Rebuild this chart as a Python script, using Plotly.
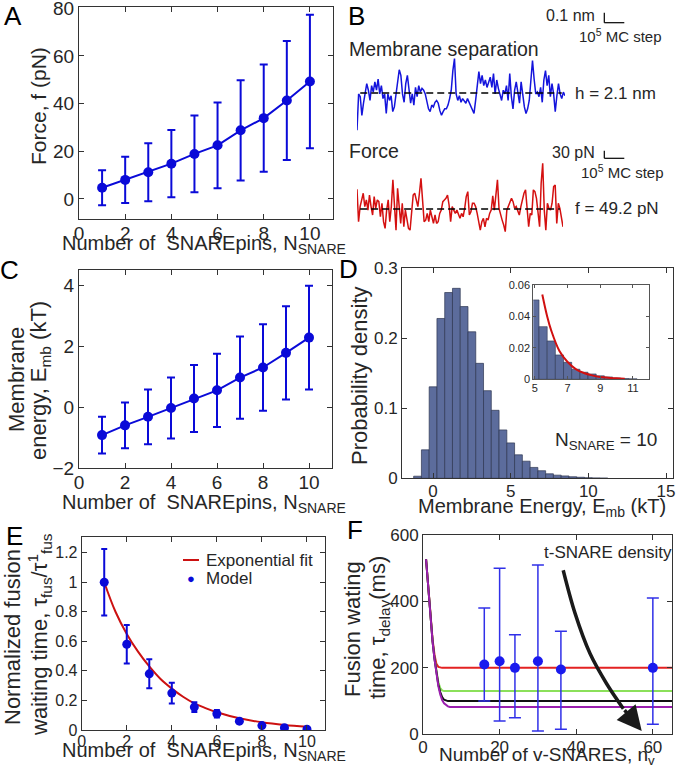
import plotly.graph_objects as go

W, H = 677, 775
FONT = "Liberation Sans, Arial, sans-serif"
INK = "#262626"
BLUE = "#0a0ad8"

# A: force vs number of SNAREpins
n_snare = [1, 2, 3, 4, 5, 6, 7, 8, 9, 10]
force_mean = [4.7, 8.0, 11.2, 14.8, 18.9, 22.5, 28.8, 33.9, 41.3, 49.3]
force_err = [7.3, 9.7, 12.2, 14.1, 16.1, 18.0, 21.0, 22.5, 25.0, 28.0]

# B: Monte Carlo traces (deviation from mean)
h_mean = 2.1            # nm
h_dev = [-40, -1, -4, -24, -11, -1, 10, 3, -8, 8, 1, 12, 3, 15, -1, 8, -6, -1, -22, -1,
         -8, -3, -20, -15, -1, 14, 25, 19, -1, -10, 10, 19, 3, -11, -1, -13, 6, -4, 8, 1,
         5, 3, -1, -8, -17, -20, -13, -15, -10, -8, -11, -19, -24, -20, -17, -17, -13, -6, 3, 24,
         37, -1, -8, -3, -10, -6, -8, -11, -6, -10, -13, -17, -22, -8, 6, 23, 10, 19, 8, 14,
         6, 12, 17, 6, 21, -1, 14, 5, -3, -8, 3, -1, 8, -8, 21, -4, -17, 3, 12, 1,
         -11, 12, -4, -15, -22, -17, -8, 10, 35, 15, -1, 1, -4, 6, -10, 14, 24, 8, 19, -4,
         10, -1, -20, -3, 10, -1, -6, 1, -3]          # 0.01 nm
f_mean = 49.2           # pN
f_dev = [89, -57, 11, 41, 71, 11, 41, -5, 63, 11, -27, 56, 3, 41, 33, -35, 26, -57, -87, -5,
         41, -57, 11, 131, -5, -95, 93, 11, -65, 26, -80, -5, -50, -87, -95, -5, 63, 71, 41, 11,
         71, 138, 41, -57, -50, -20, -57, -5, -35, -65, -27, -65, -57, -20, -5, 33, 41, 48, 63, 18,
         -57, 11, -5, -20, -5, -20, -42, -20, -35, 3, 56, 78, -27, -12, 26, 26, 11, -20, -65, -95,
         -57, -42, -80, -42, -50, -20, -5, 59, -5, 56, 131, 3, -27, -50, -72, -102, -5, 11, 26, 48,
         33, 3, 11, -12, -27, 11, 41, 71, 86, 11, -80, -20, -27, 86, 78, 48, -20, -80, 116, 206,
         -5, -95, 26, 3, -5, 26, 101, 108, -65, 26, 3, -35, -80]   # pN

# C: membrane energy
emb_mean = [-0.92, -0.60, -0.32, -0.03, 0.28, 0.55, 0.97, 1.30, 1.78, 2.28]
emb_err = [0.60, 0.75, 0.90, 1.00, 1.10, 1.20, 1.35, 1.42, 1.53, 1.70]

# D: histogram of membrane energy (N_SNARE = 10)
emb_bins = [-1, -0.5, 0, 0.5, 1, 1.5, 2, 2.5, 3, 3.5, 4, 4.5, 5, 5.5, 6, 6.5, 7, 7.5,
            8, 8.5, 9, 9.5, 10, 10.5, 11]
emb_density = [0.003, 0.0406, 0.1305, 0.228, 0.265, 0.271, 0.245, 0.209, 0.164, 0.125,
               0.097, 0.069, 0.0505, 0.0335, 0.0244, 0.0155, 0.0108, 0.0064, 0.0045, 0.0034,
               0.0022, 0.0015, 0.0008, 0.0005, 0.0003]
tail_x = [5.45, 5.75, 6.0, 6.5, 7.0, 7.5, 8.0, 8.5, 9.0, 9.5, 10.0, 10.5]
tail_y = [0.054, 0.040, 0.031, 0.018, 0.011, 0.0065, 0.004, 0.0025, 0.0015, 0.001, 0.0006, 0.0004]

# E: normalized fusion waiting time
tau_norm = [1.0, 0.58, 0.38, 0.25, 0.155, 0.11, 0.06, 0.03, 0.015, 0.005]
tau_err = [0.225, 0.13, 0.098, 0.07, 0.033, 0.025, 0.006, 0.004, 0.003, 0.002]
fit_x = [1, 1.5, 2, 2.5, 3, 3.5, 4, 4.5, 5, 5.5, 6, 7, 8, 9, 10]
fit_y = [1.0, 0.80, 0.65, 0.53, 0.43, 0.345, 0.28, 0.225, 0.18, 0.148, 0.12, 0.079, 0.052, 0.034, 0.022]

# F: fusion waiting time vs number of v-SNAREs
n_v = [16, 20, 24, 30, 36, 60]
delay = [210, 220, 200, 220, 195, 200]
delay_hi = [380, 500, 300, 510, 310, 410]
delay_lo = [100, 40, 50, 10, 15, 30]
curve_x = [0.8, 1.5, 2, 2.5, 3, 3.5, 4, 4.5, 5, 5.5, 6, 6.5, 7, 8, 65]
curve_red = [527, 420, 345, 285, 240, 212, 203, 201, 200, 200, 200, 200, 200, 200, 200]
curve_green = [527, 420, 345, 280, 230, 190, 157, 139, 132, 130, 130, 130, 130, 130, 130]
curve_black = [527, 420, 345, 280, 228, 185, 150, 127, 112, 104, 101, 100, 100, 100, 100]
curve_purple = [527, 420, 345, 278, 226, 180, 145, 120, 103, 93, 87, 84, 82.5, 82, 82]
arrow_x = [36.6, 39.7, 43.6, 47.9, 52.3]
arrow_y = [494, 364, 243, 153, 77]
arrow_tip = (57.1, 10)


def dom_x(a, b):
    return [a / W, b / W]


def dom_y(top, bottom):
    return [1 - bottom / H, 1 - top / H]


def axis(size, **kw):
    d = dict(showline=True, linecolor="#333333", linewidth=1, mirror="ticks",
             ticks="inside", ticklen=5, tickcolor="#333333", showgrid=False,
             zeroline=False, automargin=False, ticklabeloverflow="allow",
             tickfont=dict(family=FONT, size=size, color=INK))
    d.update(kw)
    return d


def hidden(**kw):
    d = dict(visible=False, automargin=False)
    d.update(kw)
    return d


def label(s, x, y, size, xanchor="center", yanchor="middle", angle=0, color=INK):
    return dict(text=s, x=x / W, y=1 - y / H, xref="paper", yref="paper",
                showarrow=False, xanchor=xanchor, yanchor=yanchor, textangle=angle,
                font=dict(family=FONT, size=size, color=color))


fig = go.Figure()

# A
fig.add_trace(go.Scatter(
    x=n_snare, y=force_mean, mode="lines+markers", xaxis="x", yaxis="y",
    line=dict(color=BLUE, width=2), marker=dict(color=BLUE, size=10),
    error_y=dict(type="data", array=force_err, color=BLUE, thickness=2, width=4)))

# B
h_vals = [h_mean + d / 100 for d in h_dev]
f_vals = [f_mean + d for d in f_dev]
fig.add_trace(go.Scatter(x=list(range(len(h_vals))), y=h_vals, mode="lines", xaxis="x2", yaxis="y2",
                         line=dict(color="#1414dc", width=1.5)))
fig.add_trace(go.Scatter(x=[2, len(h_vals) - 3], y=[h_mean, h_mean], mode="lines", xaxis="x2", yaxis="y2",
                         line=dict(color="black", width=1.6, dash="7px,4px")))
fig.add_trace(go.Scatter(x=list(range(len(f_vals))), y=f_vals, mode="lines", xaxis="x3", yaxis="y3",
                         line=dict(color="#d41010", width=1.5)))
fig.add_trace(go.Scatter(x=[2, len(f_vals) - 3], y=[f_mean, f_mean], mode="lines", xaxis="x3", yaxis="y3",
                         line=dict(color="black", width=1.6, dash="7px,4px")))

# C
fig.add_trace(go.Scatter(
    x=n_snare, y=emb_mean, mode="lines+markers", xaxis="x4", yaxis="y4",
    line=dict(color=BLUE, width=2), marker=dict(color=BLUE, size=10),
    error_y=dict(type="data", array=emb_err, color=BLUE, thickness=2, width=4)))

# D + inset
for xa, ya, lw in (("x5", "y5", 0.7), ("x6", "y6", 0.6)):
    fig.add_trace(go.Bar(x=emb_bins, y=emb_density, width=0.5, xaxis=xa, yaxis=ya,
                         marker=dict(color="#5c6c9c", line=dict(color="#2e3652", width=lw))))
fig.add_trace(go.Scatter(x=tail_x, y=tail_y, mode="lines", xaxis="x6", yaxis="y6",
                         line=dict(color="#d01010", width=2, shape="spline")))

# E
fig.add_trace(go.Scatter(x=fit_x, y=fit_y, mode="lines", xaxis="x7", yaxis="y7",
                         line=dict(color="#cc1111", width=2, shape="spline")))
fig.add_trace(go.Scatter(
    x=n_snare, y=tau_norm, mode="markers", xaxis="x7", yaxis="y7",
    marker=dict(color=BLUE, size=9),
    error_y=dict(type="data", array=tau_err, color=BLUE, thickness=2, width=3)))

# F
for ys, col in ((curve_red, "#e32222"), (curve_green, "#8be05a"),
                (curve_black, "#111111"), (curve_purple, "#9a1fae")):
    fig.add_trace(go.Scatter(x=curve_x, y=ys, mode="lines", xaxis="x8", yaxis="y8",
                             line=dict(color=col, width=2)))
fig.add_trace(go.Scatter(
    x=n_v, y=delay, mode="markers", xaxis="x8", yaxis="y8",
    marker=dict(color="#1a1aee", size=10),
    error_y=dict(type="data", symmetric=False,
                 array=[h - m for h, m in zip(delay_hi, delay)],
                 arrayminus=[m - l for m, l in zip(delay, delay_lo)],
                 color="#3030e8", thickness=1.5, width=6)))
fig.add_trace(go.Scatter(x=arrow_x, y=arrow_y, mode="lines", xaxis="x8", yaxis="y8",
                         line=dict(color="#1a1a1a", width=3.5, shape="spline")))

# B vertical scales (px per unit)
h_ppu = 93.0
f_ppu = 0.2222

XS = dict(ticklabelstandoff=-3)   # MATLAB puts x labels tight under the axis

layout = dict(
    width=W, height=H, margin=dict(l=0, r=0, t=0, b=0, pad=0, autoexpand=False),
    paper_bgcolor="white", plot_bgcolor="white", showlegend=False,
    font=dict(family=FONT, color=INK),
    xaxis=axis(19, domain=dom_x(79, 333), range=[0, 11], tickvals=[0, 2, 4, 6, 8, 10], anchor="y", **XS),
    yaxis=axis(19, domain=dom_y(7.3, 219), range=[-8.4, 80.4], tickvals=[0, 20, 40, 60, 80], anchor="x"),
    xaxis2=hidden(domain=dom_x(357, 565), range=[0, len(h_vals) - 1], anchor="y2"),
    yaxis2=hidden(domain=dom_y(40, 140), anchor="x2",
                  range=[h_mean - (140 - 93) / h_ppu, h_mean + (93 - 40) / h_ppu]),
    xaxis3=hidden(domain=dom_x(357, 563), range=[0, len(f_vals) - 1], anchor="y3"),
    yaxis3=hidden(domain=dom_y(150, 250), anchor="x3",
                  range=[f_mean - (250 - 209) / f_ppu, f_mean + (209 - 150) / f_ppu]),
    xaxis4=axis(19, domain=dom_x(79, 332), range=[0, 11], tickvals=[0, 2, 4, 6, 8, 10], anchor="y4", **XS),
    yaxis4=axis(19, domain=dom_y(270, 468), range=[-2, 4.5], tickvals=[-2, 0, 2, 4], anchor="x4"),
    xaxis5=axis(17, domain=dom_x(402, 673), range=[-2, 15.45], tickvals=[0, 5, 10, 15], anchor="y5", **XS),
    yaxis5=axis(17, domain=dom_y(268, 478.3), range=[0, 0.3], tickvals=[0, 0.1, 0.2, 0.3], anchor="x5"),
    xaxis6=axis(11, domain=dom_x(533.3, 649.3), range=[4.9, 12], tickvals=[5, 7, 9, 11],
                ticklen=3, linecolor="#555555", tickcolor="#555555", anchor="y6", ticklabelstandoff=-2),
    yaxis6=axis(11, domain=dom_y(285, 379.3), range=[0, 0.06], tickvals=[0, 0.02, 0.04, 0.06],
                ticklen=3, linecolor="#555555", tickcolor="#555555", anchor="x6"),
    xaxis7=axis(16, domain=dom_x(81.7, 325), range=[0, 10.8], tickvals=[0, 2, 4, 6, 8, 10], anchor="y7", **XS),
    yaxis7=axis(16, domain=dom_y(537, 730), range=[0, 1.306],
                tickvals=[0, 0.2, 0.4, 0.6, 0.8, 1, 1.2],
                ticktext=["0", "0.2", "0.4", "0.6", "0.8", "1", "1.2"], anchor="x7"),
    xaxis8=axis(17, domain=dom_x(423, 672), range=[0, 65], tickvals=[0, 20, 40, 60], anchor="y8", **XS),
    yaxis8=axis(17, domain=dom_y(535, 734.3), range=[0, 600], tickvals=[0, 200, 400, 600], anchor="x8"),
)
fig.update_layout(**layout)

ann = [
    # panel letters
    label("A", 13, 16, 26, color="black"),
    label("B", 356, 16, 26, color="black"),
    label("C", 9, 270, 26, color="black"),
    label("D", 348, 269, 26, color="black"),
    label("E", 14, 536, 26, color="black"),
    label("F", 355, 530, 26, color="black"),
    # A
    label("Force, f (pN)", 39, 106, 21, angle=-90),
    label("Number of  SNAREpins, N<sub>SNARE</sub>", 204, 244, 20),
    # B
    label("Membrane separation", 347, 49, 19.5, xanchor="left"),
    label("h = 2.1 nm", 573, 93, 17, xanchor="left"),
    label("Force", 347, 151, 19.5, xanchor="left"),
    label("f = 49.2 pN", 573, 209, 17, xanchor="left"),
    label("0.1 nm", 597, 15, 16, xanchor="right"),
    label("10<sup>5</sup> MC step", 577, 35, 15, xanchor="left"),
    label("30 pN", 597, 152, 16, xanchor="right"),
    label("10<sup>5</sup> MC step", 579, 171, 15, xanchor="left"),
    # C
    label("Membrane", 17, 380, 22, angle=-90),
    label("energy, E<sub>mb</sub> (kT)", 40, 381, 22, angle=-90),
    label("Number of  SNAREpins, N<sub>SNARE</sub>", 204, 503, 20),
    # D
    label("Probability density", 360, 376, 22, angle=-90),
    label("Membrane Energy, E<sub>mb</sub> (kT)", 542, 507, 20),
    label("N<sub>SNARE</sub> = 10", 553, 441, 19, xanchor="left"),
    # E
    label("Normalized fusion", 12, 637, 22, angle=-90),
    label("waiting time, τ<sub>fus</sub>/τ<sup>1</sup><sub>fus</sub>", 39, 635, 22, angle=-90),
    label("Number of  SNAREpins, N<sub>SNARE</sub>", 204, 751, 20),
    label("Exponential fit", 204, 560, 17, xanchor="left"),
    label("Model", 204, 578, 17, xanchor="left"),
    label("●", 191, 578, 13, color=BLUE),
    # F
    label("Fusion wating", 352, 629, 22, angle=-90),
    label("time, τ<sub>delay</sub>(ms)", 379, 628, 22, angle=-90),
    label("Number of v-SNARES, n<sub>v</sub>", 547, 756, 19),
    label("t-SNARE density", 542, 552, 17, xanchor="left"),
    # F arrow head
    dict(x=arrow_tip[0], y=arrow_tip[1], ax=arrow_x[-1], ay=arrow_y[-1],
         xref="x8", yref="y8", axref="x8", ayref="y8", text="", showarrow=True,
         arrowhead=2, arrowsize=1.4, arrowwidth=3.5, arrowcolor="#1a1a1a", standoff=0),
]
fig.update_layout(annotations=ann)


def seg(x0, y0, x1, y1, color="black", width=1.2):
    return dict(type="line", xref="paper", yref="paper", x0=x0 / W, y0=1 - y0 / H,
                x1=x1 / W, y1=1 - y1 / H, line=dict(color=color, width=width))


fig.update_layout(shapes=[
    # scale bars in B
    seg(604.3, 12.7, 604.3, 22.7), seg(604.3, 22.7, 624.3, 22.7),
    seg(604.3, 150.7, 604.3, 158.3), seg(604.3, 158.3, 624.3, 158.3),
    # legend line in E
    seg(183, 560, 199, 560, color="#cc1111", width=2),
])

# page body has a default 8px margin; drop it so the figure sits at the window origin
fig.write_html("out.html", config={"displayModeBar": False},
               post_script="document.body.style.margin='0';")
